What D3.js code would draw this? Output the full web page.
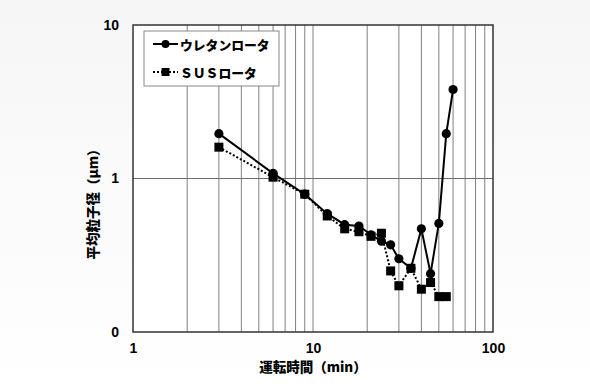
<!DOCTYPE html>
<html>
<head>
<meta charset="utf-8">
<script src="https://cdn.jsdelivr.net/npm/d3@7"></script>
<style>
  body { margin: 0; background: #fff; }
  text { font-family: "Liberation Sans", Arial, "Noto Sans CJK JP", sans-serif; font-weight: bold; fill: #000; }
  .jp { font-family: "Noto Sans CJK JP", sans-serif; font-weight: 900; }
</style>
</head>
<body>
<script>
// data
const seriesNames = ["ウレタンロータ", "ＳＵＳロータ"];
const timeUrethane = [3, 6, 9, 12, 15, 18, 21, 24, 27, 30, 35, 40, 45, 50, 55, 60];
const sizeUrethane = [1.96, 1.08, 0.79, 0.59, 0.50, 0.49, 0.43, 0.39, 0.37, 0.30, 0.26, 0.47, 0.24, 0.51, 1.96, 3.8];
const timeSUS = [3, 6, 9, 12, 15, 18, 21, 24, 27, 30, 35, 40, 45, 50, 55];
const sizeSUS = [1.6, 1.02, 0.79, 0.57, 0.47, 0.45, 0.42, 0.44, 0.25, 0.20, 0.26, 0.19, 0.21, 0.17, 0.17];
const xTicks = [1, 10, 100];
const yTicks = [0.1, 1, 10];
const yTickLabels = ["0", "1", "10"];
// data

const W = 590, H = 392;
const margin = { top: 25, right: 97, bottom: 60, left: 133 };
const width = W - margin.left - margin.right,
      height = H - margin.top - margin.bottom;

const x = d3.scaleLog().domain([1, 100]).range([0, width]);
const y = d3.scaleLog().domain([0.1, 10]).range([height, 0]);

const root = d3.select("body").append("svg")
  .attr("width", W)
  .attr("height", H);

// soft background like the original picture
const grad = root.append("defs").append("linearGradient")
  .attr("id", "bg").attr("x1", 0).attr("y1", 0).attr("x2", 0).attr("y2", 1);
grad.append("stop").attr("offset", "0%").attr("stop-color", "#f6f6f6");
grad.append("stop").attr("offset", "100%").attr("stop-color", "#ffffff");
root.append("rect").attr("width", W).attr("height", H).attr("fill", "url(#bg)");

const svg = root.append("g")
  .attr("transform", `translate(${margin.left},${margin.top})`);

svg.append("rect")
  .attr("width", width).attr("height", height)
  .attr("fill", "#fff");

// vertical grid (every minor log tick)
const xGrid = x.ticks().filter(d => d > 1 && d < 100);
svg.selectAll(".vgrid")
  .data(xGrid)
  .enter().append("line")
  .attr("x1", d => x(d)).attr("x2", d => x(d))
  .attr("y1", 0).attr("y2", height)
  .attr("stroke", "#808080")
  .attr("stroke-width", 1);

// horizontal grid at major ticks only
svg.selectAll(".hgrid")
  .data(yTicks.filter(d => d > 0.1 && d < 10))
  .enter().append("line")
  .attr("x1", 0).attr("x2", width)
  .attr("y1", d => y(d)).attr("y2", d => y(d))
  .attr("stroke", "#6e6e6e")
  .attr("stroke-width", 1);

// plot frame
svg.append("rect")
  .attr("width", width).attr("height", height)
  .attr("fill", "none")
  .attr("stroke", "#333")
  .attr("stroke-width", 1.5);

// axes
const xAxis = svg.append("g")
  .attr("transform", `translate(0,${height})`)
  .call(d3.axisBottom(x).tickValues(xTicks).tickFormat(d3.format("d")).tickSize(0).tickPadding(11));
xAxis.select(".domain").remove();
xAxis.selectAll("text").attr("font-size", 14).attr("font-family", "Liberation Sans, Arial, sans-serif").attr("font-weight", "bold");

const yAxis = svg.append("g")
  .call(d3.axisLeft(y).tickValues(yTicks).tickFormat((d, i) => yTickLabels[i]).tickSize(0).tickPadding(14));
yAxis.select(".domain").remove();
yAxis.selectAll("text").attr("font-size", 14).attr("font-family", "Liberation Sans, Arial, sans-serif").attr("font-weight", "bold");

// axis titles
svg.append("text")
  .attr("class", "jp")
  .attr("x", width / 2).attr("y", height + 40)
  .attr("text-anchor", "middle")
  .attr("font-size", 13.5)
  .text("運転時間（min）");

svg.append("text")
  .attr("class", "jp")
  .attr("transform", `translate(${92 - margin.left},${201 - margin.top}) rotate(-90)`)
  .attr("text-anchor", "middle")
  .attr("dominant-baseline", "central")
  .attr("font-size", 13.5)
  .text("平均粒子径（μm）");

// series
const urethane = timeUrethane.map((t, i) => ({ t, v: sizeUrethane[i] }));
const sus = timeSUS.map((t, i) => ({ t, v: sizeSUS[i] }));
const line = d3.line().x(d => x(d.t)).y(d => y(d.v));

svg.append("path")
  .datum(sus)
  .attr("d", line)
  .attr("fill", "none")
  .attr("stroke", "#000")
  .attr("stroke-width", 2)
  .attr("stroke-dasharray", "2,2");

svg.append("path")
  .datum(urethane)
  .attr("d", line)
  .attr("fill", "none")
  .attr("stroke", "#000")
  .attr("stroke-width", 2);

svg.selectAll(".dot")
  .data(urethane)
  .enter().append("circle")
  .attr("cx", d => x(d.t)).attr("cy", d => y(d.v))
  .attr("r", 4.6)
  .attr("fill", "#000");

svg.selectAll(".sq")
  .data(sus)
  .enter().append("rect")
  .attr("x", d => x(d.t) - 4.5).attr("y", d => y(d.v) - 4.5)
  .attr("width", 9).attr("height", 9)
  .attr("fill", "#000");

// legend
const lg = root.append("g").attr("transform", "translate(144,31)");
lg.append("rect")
  .attr("width", 135).attr("height", 55)
  .attr("fill", "#fff")
  .attr("stroke", "#888")
  .attr("stroke-width", 1);

const entries = [
  { name: seriesNames[0], dash: null, shape: "circle", cy: 13 },
  { name: seriesNames[1], dash: "2,2", shape: "square", cy: 41 }
];
entries.forEach(e => {
  lg.append("line")
    .attr("x1", 9).attr("x2", 34)
    .attr("y1", e.cy).attr("y2", e.cy)
    .attr("stroke", "#000").attr("stroke-width", 2)
    .attr("stroke-dasharray", e.dash);
  if (e.shape === "circle") {
    lg.append("circle").attr("cx", 21.5).attr("cy", e.cy).attr("r", 4).attr("fill", "#000");
  } else {
    lg.append("rect").attr("x", 17.5).attr("y", e.cy - 4).attr("width", 8).attr("height", 8).attr("fill", "#000");
  }
  lg.append("text")
    .attr("class", "jp")
    .attr("x", 36).attr("y", e.cy)
    .attr("dominant-baseline", "central")
    .attr("font-size", 12.8)
    .text(e.name);
});
</script>
</body>
</html>
